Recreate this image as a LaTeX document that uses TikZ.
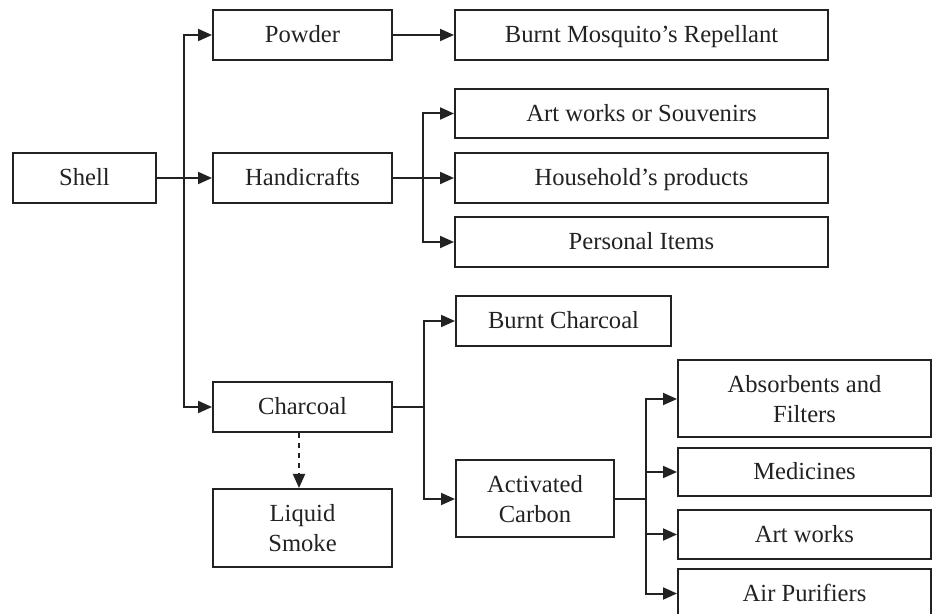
\documentclass[tikz,border=0pt]{standalone}
\usepackage{fontspec}
\setmainfont{Liberation Serif}
\usetikzlibrary{arrows.meta}
\definecolor{ink}{RGB}{34,34,34}
\begin{document}
\begin{tikzpicture}[x=0.5pt,y=-0.5pt,
  box/.style={draw=ink,line width=1pt,inner sep=0pt,align=center,text=ink,
    font=\fontsize{12.3}{15}\selectfont},
  one/.style={box,text height=8pt,text depth=0pt},
  arr/.style={draw=ink,line width=1pt,-{Triangle[length=7pt,width=6pt]}},
  ln/.style={draw=ink,line width=1pt}]
\useasboundingbox (0,0) rectangle (932,614);
% nodes
\node[one,minimum width=71.5pt,minimum height=25pt] (shell) at (84.5,178) {Shell};
\node[one,minimum width=89.5pt,minimum height=25pt] (powder) at (302.5,35) {Powder};
\node[one,minimum width=89.5pt,minimum height=25pt] (handi) at (302.5,178) {Handicrafts};
\node[one,minimum width=89.5pt,minimum height=25pt] (charcoal) at (302.5,407) {Charcoal};
\node[box,minimum width=89.5pt,minimum height=39pt] (smoke) at (302.5,528) {Liquid\\Smoke};
\node[one,minimum width=186.5pt,minimum height=25pt] (mosq) at (641.5,35) {Burnt Mosquito’s Repellant};
\node[one,minimum width=186.5pt,minimum height=24.5pt] (art) at (641.5,113.5) {Art works or Souvenirs};
\node[one,minimum width=186.5pt,minimum height=25pt] (house) at (641.5,178) {Household’s products};
\node[one,minimum width=186.5pt,minimum height=25pt] (pers) at (641.5,242) {Personal Items};
\node[one,minimum width=107.5pt,minimum height=25pt] (burnt) at (563.5,321) {Burnt Charcoal};
\node[box,minimum width=79pt,minimum height=38.5pt] (activ) at (535,499) {Activated\\Carbon};
\node[box,minimum width=126.5pt,minimum height=38.5pt] (absorb) at (804.5,399) {Absorbents and\\Filters};
\node[one,minimum width=126.5pt,minimum height=24pt] (med) at (804.5,472) {Medicines};
\node[one,minimum width=126.5pt,minimum height=24.5pt] (artw) at (804.5,534.5) {Art works};
\node[one,minimum width=126.5pt,minimum height=24.5pt] (air) at (804.5,593.5) {Air Purifiers};
% junctions
\coordinate (j1) at (184,178);
\coordinate (j2) at (423,178);
\coordinate (j3) at (424,407);
\coordinate (j4) at (646,499);
% connectors
\draw[arr] (shell) -- (handi);
\draw[arr] (j1) |- (powder.west);
\draw[arr] (j1) |- (charcoal.west);
\draw[arr] (powder) -- (mosq);
\draw[arr] (handi) -- (house);
\draw[arr] (j2) |- (art.west);
\draw[arr] (j2) |- (pers.west);
\draw[ln] (charcoal.east) -- (j3);
\draw[arr] (j3) |- (burnt.west);
\draw[arr] (j3) |- (activ.west);
\draw[ln] (activ.east) -- (j4);
\draw[arr] (j4) |- (absorb.west);
\draw[arr] (j4) |- (med.west);
\draw[arr] (j4) |- (artw.west);
\draw[arr] (j4) |- (air.west);
\draw[arr,dash pattern=on 2.5pt off 2.5pt] ([xshift=-1.75pt]charcoal.south) -- ([xshift=-1.75pt]smoke.north);
\end{tikzpicture}
\end{document}
